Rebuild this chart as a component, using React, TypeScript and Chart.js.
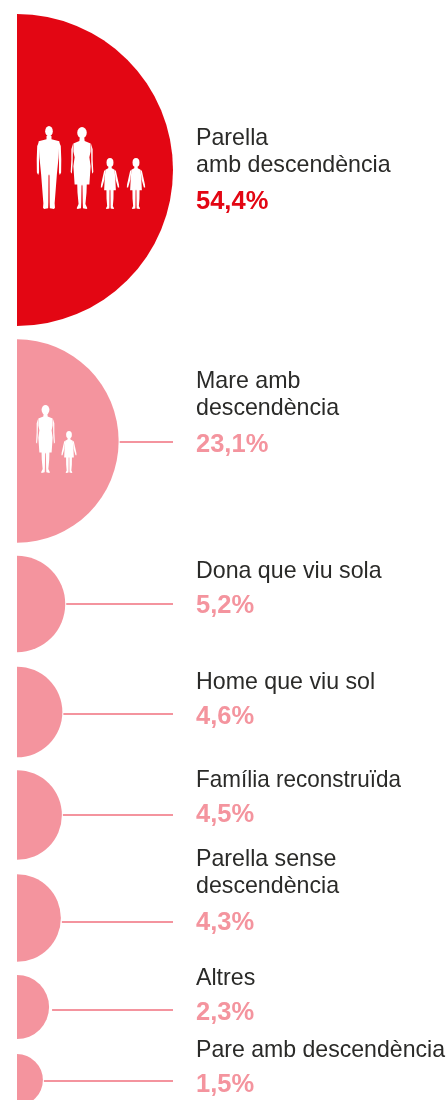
import React, { useEffect, useRef } from "react";
import { Chart, registerables } from "chart.js";

Chart.register(...registerables);

const categories = [
  ["Parella", "amb descendència"],
  ["Mare amb", "descendència"],
  ["Dona que viu sola"],
  ["Home que viu sol"],
  ["Família reconstruïda"],
  ["Parella sense", "descendència"],
  ["Altres"],
  ["Pare amb descendència"],
];
const shares = [54.4, 23.1, 5.2, 4.6, 4.5, 4.3, 2.3, 1.5];
const shareLabels = ["54,4%", "23,1%", "5,2%", "4,6%", "4,5%", "4,3%", "2,3%", "1,5%"];

// Layout of the rows on the pixel-like scales
const rowCentres = [170, 441, 604, 712, 815, 918, 1007, 1080];
const connectorRows = [null, 442, 604, 714, 815, 922, 1010, 1081];
const percentBaselines = [209, 452, 613, 724, 822, 930, 1020, 1092];

const RED = "#e30613";
const PINK = "#f4949e";
const INK = "#2a2a28";
const LEFT = 17;
const TEXT_X = 196;
const TEXT_MAX = 249;
const CONNECTOR_END = 156;
const radiusOf = (v: number) => 21.15 * Math.sqrt(v);

type Pt = [number, number];
const man = {
  head: [0, 6.2, 4.6, 6.2],
  body: [[0, 12], [3, 12], [3, 16], [12.5, 18.5], [11.5, 38], [9.5, 58], [8.2, 75], [6.8, 93], [7.2, 98.5], [6, 100], [1, 99], [0.8, 92], [0.6, 60], [0, 58]] as Pt[],
  arm: [[12, 19], [14.2, 24], [14.8, 40], [14.6, 56], [13, 59], [12, 56], [12, 42], [11.5, 30]] as Pt[],
};
const woman = {
  head: [0, 7, 5.8, 7],
  body: [[0, 13], [2.8, 13], [3.2, 17], [10.5, 20], [10.5, 30], [9, 37], [10.5, 48], [9, 70], [5.8, 70], [5.5, 80], [4.2, 94], [6.5, 99], [5.5, 100], [1.2, 99], [0.9, 92], [0.6, 72], [0, 70]] as Pt[],
  arm: [[11, 20.5], [13, 27], [13, 40], [13.8, 55], [12.4, 57], [11.4, 45], [11.2, 32]] as Pt[],
};
const child = {
  head: [0, 9, 6.8, 9],
  body: [[0, 16], [3, 16], [3.5, 20], [9, 23], [10.5, 42], [11.5, 63], [7, 63], [6.8, 80], [5.6, 94], [8, 99], [6.5, 100], [1.2, 99], [1, 92], [0.8, 64], [0, 62]] as Pt[],
  arm: [[9, 23.5], [11.5, 25], [17.5, 52], [18, 58], [15.5, 58], [11, 42]] as Pt[],
};
type Fig = typeof man;

function drawFigure(ctx: CanvasRenderingContext2D, f: Fig, cx: number, top: number, height: number) {
  const k = height / 100;
  const poly = (pts: Pt[]) => {
    ctx.beginPath();
    pts.forEach(([x, y], i) => (i ? ctx.lineTo(cx + x * k, top + y * k) : ctx.moveTo(cx + x * k, top + y * k)));
    [...pts].reverse().forEach(([x, y]) => ctx.lineTo(cx - x * k, top + y * k));
    ctx.closePath();
    ctx.fill();
  };
  const mirror = (pts: Pt[], s: number) => {
    ctx.beginPath();
    pts.forEach(([x, y], i) => (i ? ctx.lineTo(cx + s * x * k, top + y * k) : ctx.moveTo(cx + s * x * k, top + y * k)));
    ctx.closePath();
    ctx.fill();
  };
  ctx.beginPath();
  ctx.ellipse(cx, top + f.head[1] * k, f.head[2] * k, f.head[3] * k, 0, 0, Math.PI * 2);
  ctx.fill();
  poly(f.body);
  mirror(f.arm, 1);
  mirror(f.arm, -1);
}

const overlay = {
  id: "overlay",
  afterDatasetsDraw(chart: any) {
    const { ctx } = chart;
    ctx.save();
    ctx.textBaseline = "alphabetic";
    ctx.textAlign = "left";
    categories.forEach((lines, i) => {
      const pct = percentBaselines[i];
      const first = pct - (i === 0 ? 37 : i === 1 || i === 5 ? 37 : 35) - (lines.length - 1) * 27;
      ctx.font = '23.2px "Liberation Sans", Arial, sans-serif';
      ctx.fillStyle = INK;
      lines.forEach((t, j) => ctx.fillText(t, TEXT_X, first + j * 27, i === 4 ? 205 : TEXT_MAX));
      ctx.font = 'bold 25.5px "Liberation Sans", Arial, sans-serif';
      ctx.fillStyle = i === 0 ? RED : PINK;
      ctx.fillText(shareLabels[i], TEXT_X, pct);
    });
    ctx.fillStyle = "#ffffff";
    drawFigure(ctx, man, 49, 126, 83);
    drawFigure(ctx, woman, 82, 127, 82);
    drawFigure(ctx, child, 110, 158, 51);
    drawFigure(ctx, child, 136, 158, 51);
    drawFigure(ctx, woman, 45.5, 405, 68);
    drawFigure(ctx, child, 69, 431, 42);
    ctx.restore();
  },
};

export default function App() {
  const ref = useRef<HTMLCanvasElement | null>(null);
  useEffect(() => {
    document.body.style.margin = "0";
    const connectors = connectorRows.flatMap((y, i) =>
      y === null
        ? []
        : [{
            type: "line" as const,
            data: [{ x: radiusOf(shares[i]) + (i === 6 ? 3 : 1), y }, { x: CONNECTOR_END, y }],
            borderColor: PINK,
            borderWidth: 2,
            pointRadius: 0,
            clip: false,
            order: 2,
          }]
    );
    const chart = new Chart(ref.current as HTMLCanvasElement, {
      type: "bubble",
      data: {
        datasets: [
          {
            data: shares.map((v, i) => ({ x: 0, y: rowCentres[i], r: radiusOf(v) })),
            backgroundColor: shares.map((_, i) => (i === 0 ? RED : PINK)),
            borderWidth: 0,
            hoverBorderWidth: 0,
            order: 1,
          },
          ...connectors,
        ] as any,
      },
      options: {
        responsive: false,
        animation: false,
        layout: { autoPadding: false, padding: { left: LEFT, right: 0, top: 0, bottom: 0 } },
        plugins: { legend: { display: false }, tooltip: { enabled: false } },
        scales: {
          x: { type: "linear", min: 0, max: 431, display: false },
          y: { type: "linear", min: 0, max: 1100, reverse: true, display: false },
        },
      },
      plugins: [overlay],
    });
    return () => chart.destroy();
  }, []);
  return <canvas ref={ref} width={448} height={1100} style={{ display: "block" }} />;
}
